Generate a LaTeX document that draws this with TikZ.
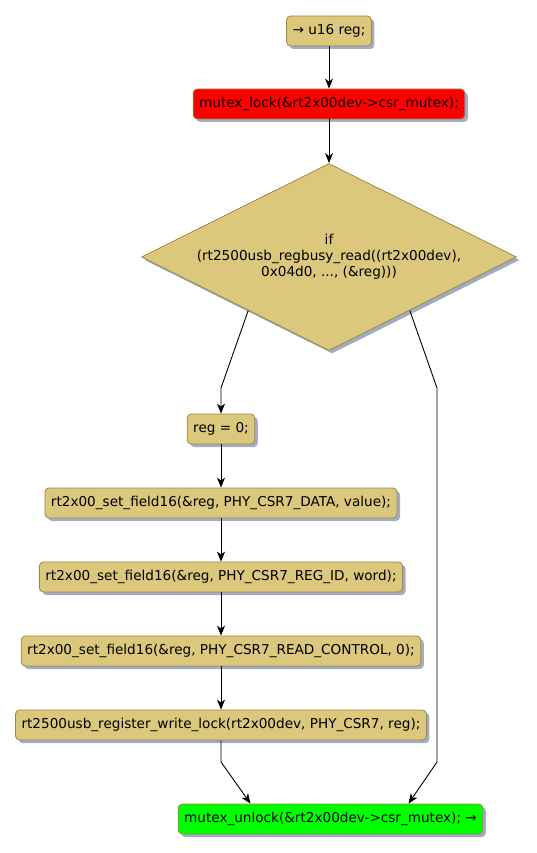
\documentclass[tikz,border=0pt]{standalone}
\usepackage{fontspec}
\setmainfont{DejaVu Sans}
\usetikzlibrary{shapes.geometric,shadows,calc,positioning,arrows.meta}

\definecolor{stmtfill}{RGB}{219,200,125}
\definecolor{stmtline}{RGB}{160,136,60}
\definecolor{shadowblue}{RGB}{160,172,200}
\definecolor{lockred}{RGB}{255,0,0}
\definecolor{unlockgreen}{RGB}{0,255,0}

\begin{document}
\begin{tikzpicture}[x=1pt, y=1pt, node distance=74pt, font=\fontsize{13.6}{16}\selectfont]
    % Define styles
    \tikzstyle{stmt} = [rectangle, draw=stmtline, fill=stmtfill, rounded corners=4pt, minimum height=30pt, inner xsep=6pt, line width=0.8pt, drop shadow={shadow xshift=3pt, shadow yshift=-3pt, fill=shadowblue, opacity=1}]
    \tikzstyle{lockbox} = [stmt, fill=lockred]
    \tikzstyle{unlockbox} = [stmt, fill=unlockgreen]
    \tikzstyle{decision} = [diamond, draw=stmtline, fill=stmtfill, aspect=2, minimum width=375pt, minimum height=187pt, inner sep=0pt, align=center, line width=0.8pt, drop shadow={shadow xshift=3pt, shadow yshift=-3pt, fill=shadowblue, opacity=1}]
    \tikzstyle{arrow} = [line width=0.9pt, ->, >={Stealth[length=10pt, width=8pt, inset=3pt]}]

    \useasboundingbox (0,0) rectangle (536,-853);

    % Nodes
    \node[stmt] (decl) at (329,-31) {→ u16 reg;};
    \node[lockbox] (lock) at (329,-104) {mutex\_lock(\&rt2x00dev->csr\_mutex);};
    \node[decision] (cond) at (329,-257) {if\\(rt2500usb\_regbusy\_read((rt2x00dev),\\0x04d0, ..., (\&reg)))};
    \node[stmt] (clear) at (221,-429) {reg = 0;};
    \node[stmt, below of=clear] (setdata) {rt2x00\_set\_field16(\&reg, PHY\_CSR7\_DATA, value);};
    \node[stmt, below of=setdata] (setid) {rt2x00\_set\_field16(\&reg, PHY\_CSR7\_REG\_ID, word);};
    \node[stmt, below of=setid] (setctl) {rt2x00\_set\_field16(\&reg, PHY\_CSR7\_READ\_CONTROL, 0);};
    \node[stmt, below of=setctl] (write) {rt2500usb\_register\_write\_lock(rt2x00dev, PHY\_CSR7, reg);};
    \node[unlockbox] (unlock) at (330.5,-819) {mutex\_unlock(\&rt2x00dev->csr\_mutex); →};

    % Bend points
    \coordinate (lbend) at (221,-388);
    \coordinate (rbend) at (437,-388);
    \coordinate (rdown) at (437,-762);
    \coordinate (ldown) at (221,-762);

    % Arrows
    \draw[arrow] (decl) -- (lock);
    \draw[arrow] (lock) -- (cond);
    \draw[arrow] ($(cond.west)!0.57!(cond.south)$) -- (lbend) -- (clear);
    \draw[arrow] (clear) -- (setdata);
    \draw[arrow] (setdata) -- (setid);
    \draw[arrow] (setid) -- (setctl);
    \draw[arrow] (setctl) -- (write);
    \draw[arrow] (write) -- (ldown) -- ($(unlock.north)+(-80,0)$);
    \draw[arrow] ($(cond.south)!0.43!(cond.east)$) -- (rbend) -- (rdown) -- ($(unlock.north)+(78,0)$);
\end{tikzpicture}
\end{document}
